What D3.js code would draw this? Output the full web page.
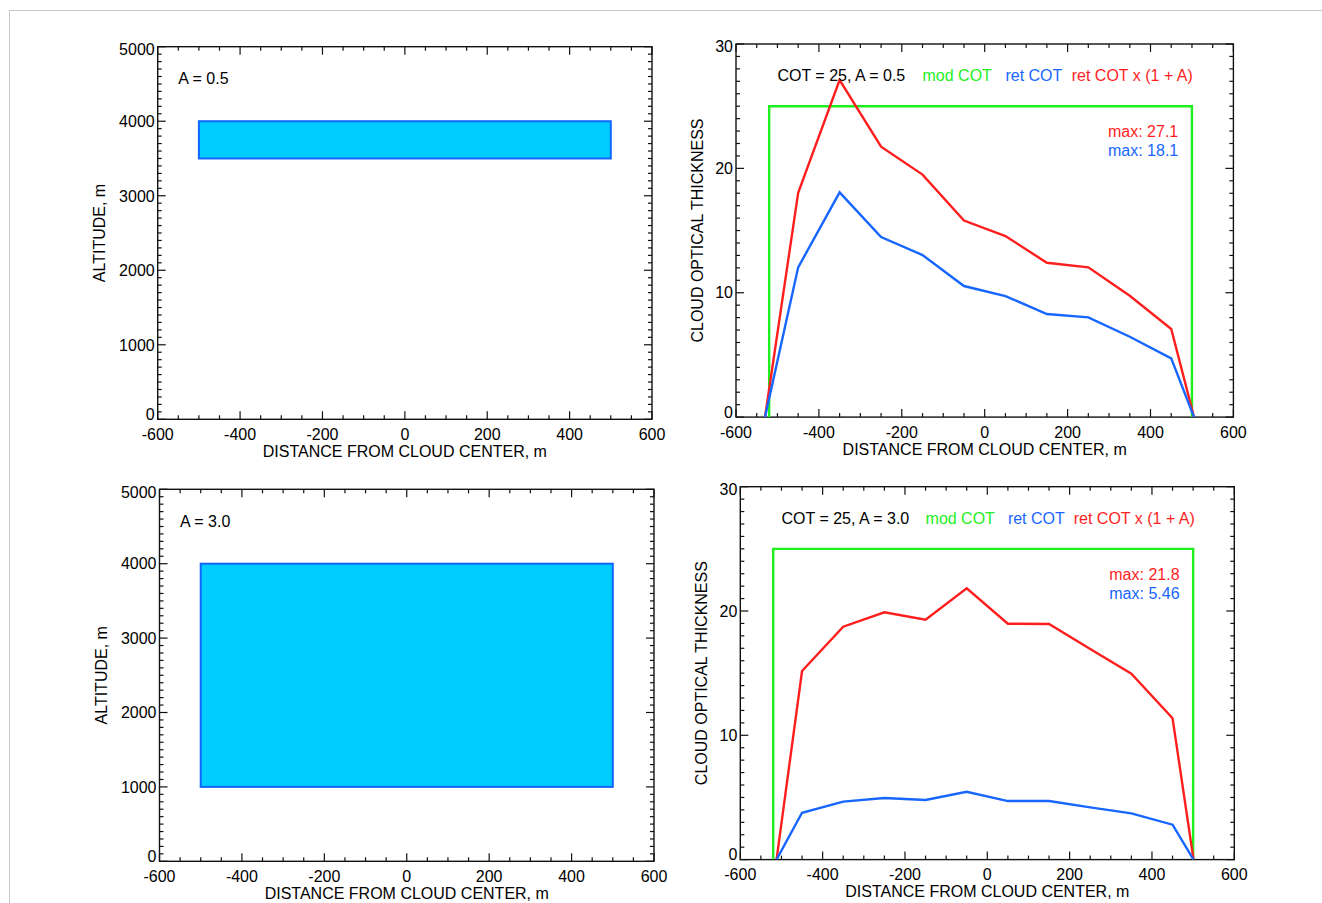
<!DOCTYPE html>
<html>
<head>
<meta charset="utf-8">
<script src="https://cdn.jsdelivr.net/npm/d3@7"></script>
<style>
  html, body { margin: 0; padding: 0; background: #fff; }
  svg { display: block; font-family: "Liberation Sans", Arial, Helvetica, sans-serif; }
</style>
</head>
<body>
<svg id="chart" width="1322" height="903"></svg>
<script>
// ---------------- DATA ----------------
const xTickLabels = [-600, -400, -200, 0, 200, 400, 600];
const altTickLabels = [0, 1000, 2000, 3000, 4000, 5000];
const cotTickLabels = [0, 10, 20, 30];

// cloud geometry (left panels)
const cloudX = [-500, 500];
const cloudA05 = [3500, 4000];   // [bottom, top] altitude, A = 0.5
const cloudA30 = [1000, 4000];   // [bottom, top] altitude, A = 3.0

// model COT (green)
const modX = [-520, -520, 500, 500];
const modCOT = [0, 25, 25, 0];

// A = 0.5 retrievals
const xA05 = [-530, -450, -350, -250, -150, -50, 50, 150, 250, 350, 450, 505];
const retA05 = [0, 12.04, 18.07, 14.48, 13.03, 10.54, 9.73, 8.29, 8.02, 6.46, 4.72, 0];
const corA05 = [0, 18.04, 27.10, 21.74, 19.50, 15.80, 14.56, 12.41, 12.04, 9.76, 7.08, 0];

// A = 3.0 retrievals
const xA30 = [-512, -450, -350, -250, -150, -50, 50, 150, 250, 350, 450, 501];
const retA30 = [0, 3.77, 4.66, 4.96, 4.80, 5.46, 4.71, 4.71, 4.20, 3.72, 2.81, 0];
const corA30 = [0, 15.17, 18.74, 19.90, 19.30, 21.83, 18.98, 18.95, 16.94, 14.96, 11.37, 0];

// annotations
const leftLabels = ["A = 0.5", "A = 3.0"];
const headerA05 = ["COT = 25, A = 0.5", "mod COT", "ret COT", "ret COT x (1 + A)"];
const headerA30 = ["COT = 25, A = 3.0", "mod COT", "ret COT", "ret COT x (1 + A)"];
const headerX = [-500, -150, 50, 210];
const maxA05 = ["max: 27.1", "max: 18.1"];
const maxA30 = ["max: 21.8", "max: 5.46"];

// ---------------- STYLE ----------------
const C = {
  green: "#1ef01e", blue: "#1766ff", red: "#ff1e1e",
  cloudFill: "#00ccff", cloudStroke: "#1166ff", axis: "#111", text: "#000"
};
const FONT_TICK = 16, FONT_TITLE = 16;

const svg = d3.select("#chart");

// figure frame
svg.append("rect").attr("x", 9.5).attr("y", 10.5).attr("width", 1330).attr("height", 900)
  .attr("fill", "none").attr("stroke", "#c8c8c8").attr("stroke-width", 1);

// panels (pixel boxes)
const panels = {
  tl: {x0: 157.7, x1: 652, y0: 46.7, y1: 419.3},
  tr: {x0: 736, x1: 1233.4, y0: 44, y1: 417.1},
  bl: {x0: 159.5, x1: 654, y0: 489.3, y1: 861.3},
  br: {x0: 740.3, x1: 1234.3, y0: 486.7, y1: 859.6}
};

function makePanel(p, yDomain, yMajor, yMinorStep, yTitle, yTitleOff) {
  const x = d3.scaleLinear().domain([-600, 600]).range([p.x0, p.x1]);
  const y = d3.scaleLinear().domain(yDomain).range([p.y1, p.y0]);
  const g = svg.append("g");
  const xMinor = d3.range(-600, 600.001, 50);
  const yMinor = d3.range(yDomain[0], yDomain[1] + 1e-6, yMinorStep);
  const ax = g.append("g").attr("stroke", C.axis).attr("stroke-width", 1.2);
  // ticks on all four sides (inward)
  xMinor.forEach(v => {
    const L = xTickLabels.includes(v) ? 8 : 4;
    const xx = x(v);
    ax.append("line").attr("x1", xx).attr("x2", xx).attr("y1", p.y1).attr("y2", p.y1 - L);
    ax.append("line").attr("x1", xx).attr("x2", xx).attr("y1", p.y0).attr("y2", p.y0 + L);
  });
  yMinor.forEach(v => {
    const isMajor = yMajor.some(m => Math.abs(m - v) < 1e-6);
    const L = isMajor ? 8 : 4;
    const yy = y(v);
    ax.append("line").attr("x1", p.x0).attr("x2", p.x0 + L).attr("y1", yy).attr("y2", yy);
    ax.append("line").attr("x1", p.x1).attr("x2", p.x1 - L).attr("y1", yy).attr("y2", yy);
  });
  // box
  ax.append("rect").attr("x", p.x0).attr("y", p.y0)
    .attr("width", p.x1 - p.x0).attr("height", p.y1 - p.y0).attr("fill", "none")
    .attr("stroke-width", 1.4);

  // tick labels
  g.append("g").selectAll("text").data(xTickLabels).join("text")
    .attr("x", d => x(d)).attr("y", p.y1 + 20.5)
    .attr("text-anchor", "middle").attr("font-size", FONT_TICK).attr("fill", C.text)
    .text(d => d);
  const lo = yDomain[0], hi = yDomain[1];
  g.append("g").selectAll("text").data(yMajor).join("text")
    .attr("x", p.x0 - 3)
    .attr("y", d => y(d) + (d === lo ? -5 : d === hi ? 2.5 : 0))
    .attr("dy", "0.36em")
    .attr("text-anchor", "end").attr("font-size", FONT_TICK).attr("fill", C.text)
    .text(d => d);
  // titles
  g.append("text").attr("x", (p.x0 + p.x1) / 2).attr("y", p.y1 + 37.5)
    .attr("text-anchor", "middle").attr("font-size", FONT_TITLE).attr("fill", C.text)
    .text("DISTANCE FROM CLOUD CENTER, m");
  const ty = (p.y0 + p.y1) / 2, tx = p.x0 - yTitleOff;
  g.append("text").attr("transform", `translate(${tx},${ty}) rotate(-90)`)
    .attr("dy", "0.36em").attr("text-anchor", "middle")
    .attr("font-size", FONT_TITLE).attr("fill", C.text).text(yTitle);
  return {x, y, g};
}

// ---------- left panels ----------
function cloudPanel(p, cloud, label) {
  const {x, y, g} = makePanel(p, [0, 5000], altTickLabels, 100, "ALTITUDE, m", 58);
  g.append("rect")
    .attr("x", x(cloudX[0])).attr("y", y(cloud[1]))
    .attr("width", x(cloudX[1]) - x(cloudX[0])).attr("height", y(cloud[0]) - y(cloud[1]))
    .attr("fill", C.cloudFill).attr("stroke", C.cloudStroke).attr("stroke-width", 2);
  g.append("text").attr("x", x(-550)).attr("y", y(4500))
    .attr("font-size", FONT_TITLE).attr("fill", C.text).text(label);
}
cloudPanel(panels.tl, cloudA05, leftLabels[0]);
cloudPanel(panels.bl, cloudA30, leftLabels[1]);

// ---------- right panels ----------
function cotPanel(p, xs, ret, cor, header, maxes) {
  const {x, y, g} = makePanel(p, [0, 30], cotTickLabels, 1, "CLOUD OPTICAL THICKNESS", 39);
  const line = d3.line().x(d => x(d[0])).y(d => y(d[1]));
  const clipId = "clip" + Math.round(p.x0);
  svg.append("clipPath").attr("id", clipId).append("rect")
    .attr("x", p.x0).attr("y", p.y0).attr("width", p.x1 - p.x0).attr("height", p.y1 - p.y0);
  const lg = g.append("g").attr("clip-path", `url(#${clipId})`)
    .attr("fill", "none").attr("stroke-width", 2.4).attr("stroke-linejoin", "miter");
  lg.append("path").attr("d", line(d3.zip(modX, modCOT))).attr("stroke", C.green);
  lg.append("path").attr("d", line(d3.zip(xs, cor))).attr("stroke", C.red);
  lg.append("path").attr("d", line(d3.zip(xs, ret))).attr("stroke", C.blue);
  const hc = [C.text, C.green, C.blue, C.red];
  g.append("g").selectAll("text").data(header).join("text")
    .attr("x", (d, i) => x(headerX[i])).attr("y", y(27))
    .attr("font-size", FONT_TITLE).attr("fill", (d, i) => hc[i]).text(d => d);
  const mc = [C.red, C.blue], my = [22.5, 21.0];
  g.append("g").selectAll("text").data(maxes).join("text")
    .attr("x", x(467)).attr("y", (d, i) => y(my[i])).attr("text-anchor", "end")
    .attr("font-size", FONT_TITLE).attr("fill", (d, i) => mc[i]).text(d => d);
}
cotPanel(panels.tr, xA05, retA05, corA05, headerA05, maxA05);
cotPanel(panels.br, xA30, retA30, corA30, headerA30, maxA30);
</script>
</body>
</html>
